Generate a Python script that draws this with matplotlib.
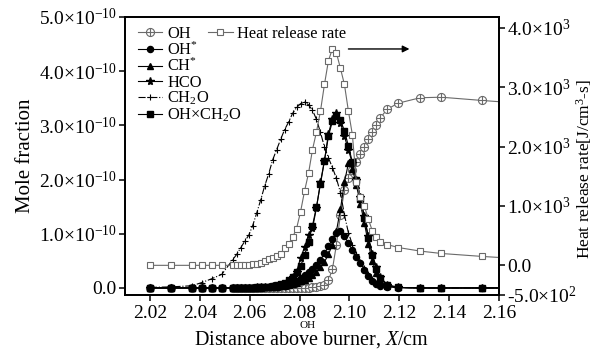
import numpy as np
import matplotlib
matplotlib.use("Agg")
import matplotlib.pyplot as plt
from matplotlib.path import Path
from matplotlib.ticker import FixedLocator, FuncFormatter

plt.rcParams['font.family'] = ['Liberation Serif', 'DejaVu Serif']
plt.rcParams['mathtext.fontset'] = 'custom'
plt.rcParams['mathtext.rm'] = 'Liberation Serif'
plt.rcParams['mathtext.it'] = 'Liberation Serif:italic'
plt.rcParams['mathtext.bf'] = 'Liberation Serif:bold'

# ---------------- data ----------------
x_pos = [2.0200, 2.0284, 2.0368, 2.0408, 2.0448, 2.0488, 2.0532, 2.0548, 2.0564, 2.0580,
         2.0596, 2.0612, 2.0628, 2.0644, 2.0660, 2.0676, 2.0692, 2.0708, 2.0724, 2.0740,
         2.0756, 2.0772, 2.0788, 2.0804, 2.0820, 2.0836, 2.0852, 2.0868, 2.0884, 2.0900,
         2.0916, 2.0932, 2.0948, 2.0964, 2.0980, 2.0996, 2.1012, 2.1028, 2.1044, 2.1060,
         2.1076, 2.1092, 2.1108, 2.1124, 2.1152, 2.1196, 2.1284, 2.1368, 2.1532, 2.1650]

# mole fractions in units of 1e-10
oh = [0, 0, 0, 0, 0, 0, 0, 0, 0, 0,
      0, 0, 0, 0, 0, 0, 0, 0, 0, 0,
      0, 0, 0, 0, 0, 0, 0.01, 0.02, 0.03, 0.06,
      0.14, 0.35, 0.80, 1.35, 1.80, 2.02, 2.18, 2.33, 2.48, 2.61,
      2.74, 2.88, 3.00, 3.14, 3.30, 3.41, 3.51, 3.52, 3.46, 3.42]

oh_star = [0, 0, 0, 0, 0, 0, 0, 0, 0, 0,
           0, 0.005, 0.005, 0.01, 0.01, 0.015, 0.02, 0.02, 0.03, 0.04,
           0.06, 0.09, 0.13, 0.18, 0.23, 0.29, 0.35, 0.43, 0.52, 0.64,
           0.77, 0.90, 1.01, 1.06, 0.95, 0.83, 0.70, 0.57, 0.46, 0.34,
           0.22, 0.13, 0.07, 0.04, 0.02, 0.005, 0, 0, 0, 0]

ch_star = [0, 0, 0, 0, 0, 0, 0, 0, 0, 0,
           0, 0, 0, 0.005, 0.01, 0.01, 0.015, 0.02, 0.03, 0.04,
           0.05, 0.07, 0.09, 0.12, 0.15, 0.19, 0.24, 0.30, 0.38, 0.48,
           0.62, 0.80, 1.05, 1.45, 1.95, 2.30, 2.20, 1.90, 1.55, 1.20,
           0.82, 0.50, 0.27, 0.13, 0.04, 0.01, 0, 0, 0, 0]

hco = [0, 0, 0, 0, 0, 0, 0, 0, 0, 0,
       0, 0.005, 0.01, 0.01, 0.015, 0.02, 0.03, 0.04, 0.05, 0.08,
       0.12, 0.20, 0.30, 0.55, 0.75, 0.98, 1.10, 1.48, 1.95, 2.35,
       2.85, 3.12, 3.22, 3.05, 2.80, 2.55, 2.30, 2.00, 1.68, 1.32,
       0.95, 0.62, 0.38, 0.20, 0.06, 0.01, 0, 0, 0, 0]

ch2o = [0.01, 0.02, 0.04, 0.10, 0.17, 0.25, 0.52, 0.62, 0.74, 0.86,
        0.97, 1.15, 1.38, 1.62, 1.88, 2.10, 2.36, 2.55, 2.74, 2.92,
        3.06, 3.22, 3.33, 3.40, 3.43, 3.38, 3.28, 3.11, 2.87, 2.60,
        2.40, 2.22, 2.02, 1.76, 1.35, 1.02, 0.80, 0.62, 0.48, 0.36,
        0.26, 0.17, 0.10, 0.06, 0.03, 0.01, 0, 0, 0, 0]

oh_ch2o = [0, 0, 0, 0, 0, 0, 0, 0, 0, 0,
           0, 0.005, 0.01, 0.01, 0.015, 0.02, 0.03, 0.05, 0.07, 0.10,
           0.15, 0.21, 0.30, 0.40, 0.60, 0.85, 1.15, 1.50, 1.92, 2.35,
           2.80, 3.08, 3.18, 3.10, 2.90, 2.62, 2.32, 2.00, 1.65, 1.30,
           0.92, 0.60, 0.35, 0.18, 0.05, 0.01, 0, 0, 0, 0]

# heat release rate in units of 1e3 J/cm^3-s
hrr = [0, 0, 0, 0, 0, 0, 0, 0, 0, 0.01,
       0.01, 0.02, 0.03, 0.04, 0.07, 0.10, 0.12, 0.15, 0.19, 0.29,
       0.36, 0.47, 0.62, 0.90, 1.25, 1.55, 1.95, 2.25, 2.60, 3.05,
       3.45, 3.65, 3.58, 3.32, 3.05, 2.60, 2.20, 1.40, 1.15, 1.00,
       0.78, 0.58, 0.48, 0.40, 0.35, 0.30, 0.24, 0.20, 0.15, 0.12]

x_ticks = [2.02, 2.04, 2.06, 2.08, 2.10, 2.12, 2.14, 2.16]
left_ticks = [0.0, 1e-10, 2e-10, 3e-10, 4e-10, 5e-10]
left_labels = ['0.0', r'1.0×10$^{-10}$', r'2.0×10$^{-10}$', r'3.0×10$^{-10}$',
               r'4.0×10$^{-10}$', r'5.0×10$^{-10}$']
right_ticks = [-500, 0, 1000, 2000, 3000, 4000]
right_labels = [r'-5.0×10$^{2}$', '0.0', r'1.0×10$^{3}$', r'2.0×10$^{3}$',
                r'3.0×10$^{3}$', r'4.0×10$^{3}$']

x = np.array(x_pos)
s10 = 1e-10

# ---------------- figure ----------------
fig = plt.figure(figsize=(6.02, 3.49), dpi=100)
ax = fig.add_axes([125/602, 1 - 295/349, 374/602, 278/349])
ax2 = ax.twinx()

# marker: circle with a plus
circ = Path.unit_circle()
cross = Path([(-1, 0), (1, 0), (0, -1), (0, 1)],
             [Path.MOVETO, Path.LINETO, Path.MOVETO, Path.LINETO])
oplus = Path.make_compound_path(circ, cross)

grey = '#6a6a6a'
ms = 4.4
lw = 0.8
mev = slice(0, -1)

h_oh, = ax.plot(x, np.array(oh) * s10, color=grey, lw=lw, marker=oplus, ms=5.8,
                mfc='white', mec=grey, mew=0.8, markevery=mev, label='OH')
h_ohs, = ax.plot(x, np.array(oh_star) * s10, color='black', lw=lw, marker='o', ms=ms,
                 mfc='black', mec='black', markevery=mev, label='OH$^{*}$')
h_chs, = ax.plot(x, np.array(ch_star) * s10, color='black', lw=lw, marker='^', ms=ms,
                 mfc='black', mec='black', markevery=mev, label='CH$^{*}$')
h_hco, = ax.plot(x, np.array(hco) * s10, color='black', lw=lw, marker='*', ms=ms + 1.5,
                 mfc='black', mec='black', markevery=mev, label='HCO')
h_ch2o, = ax.plot(x, np.array(ch2o) * s10, color='black', lw=lw, ls='-.', marker='+', ms=ms + 0.5,
                  mec='black', mew=0.8, markevery=mev, label='CH$_2$O')
h_prod, = ax.plot(x, np.array(oh_ch2o) * s10, color='black', lw=lw, marker='s', ms=ms - 0.3,
                  mfc='black', mec='black', markevery=mev, label='OH×CH$_2$O')

h_hrr, = ax2.plot(x, np.array(hrr) * 1e3, color=grey, lw=lw, marker='s', ms=ms,
                  mfc='white', mec=grey, mew=0.8, markevery=mev, label='Heat release rate')

ax.set_xlim(2.01, 2.16)
ax.set_ylim(-0.13e-10, 5.0e-10)
ax2.set_ylim(-500, 4185)

ax.xaxis.set_major_locator(FixedLocator(x_ticks))
ax.xaxis.set_major_formatter(FuncFormatter(lambda v, p: f'{v:.2f}'))
ax.yaxis.set_major_locator(FixedLocator(left_ticks))
ax.set_yticklabels(left_labels)
ax2.yaxis.set_major_locator(FixedLocator(right_ticks))
ax2.set_yticklabels(right_labels)

for a in (ax, ax2):
    for sp in a.spines.values():
        sp.set_linewidth(1.3)
ax.tick_params(axis='both', direction='out', length=4, width=1.1, labelsize=14, pad=2)
ax.tick_params(axis='x', top=False, pad=3)
ax.tick_params(axis='y', right=False)
ax2.tick_params(axis='y', direction='out', length=4, width=1.1, labelsize=14, pad=2)

ax.set_ylabel('Mole fraction', fontsize=15, labelpad=3)
ax2.set_ylabel('Heat release rate[J/cm$^{3}$-s]', fontsize=12.5)
ax2.yaxis.set_label_coords(1.2, 0.455)
ax.set_xlabel('Distance above burner, $\\mathit{X}$/cm', fontsize=14.5, labelpad=5)

# legends
leg1 = ax2.legend(handles=[h_oh, h_ohs, h_chs, h_hco, h_ch2o, h_prod], loc='upper left',
                  bbox_to_anchor=(0.012, 0.997), frameon=False, fontsize=11.8, numpoints=1,
                  handlelength=1.5, handletextpad=0.3, labelspacing=-0.04,
                  borderaxespad=0.2, borderpad=0.3)
ax2.add_artist(leg1)
leg2 = ax2.legend(handles=[h_hrr], loc='upper left', bbox_to_anchor=(0.2, 0.997),
                  frameon=False, fontsize=11.8, numpoints=1, handlelength=1.5,
                  handletextpad=0.3, borderaxespad=0.2, borderpad=0.3)

# arrow pointing to right axis
ax2.annotate('', xy=(0.768, 0.885), xytext=(0.59, 0.885), xycoords='axes fraction',
             arrowprops=dict(arrowstyle='-|>', color='black', lw=1.0,
                             mutation_scale=10))

fig.text(308/602, 1 - 325.5/349, 'OH', fontsize=8, ha='center', va='center')

fig.savefig('out.png', dpi=100, facecolor='white')
